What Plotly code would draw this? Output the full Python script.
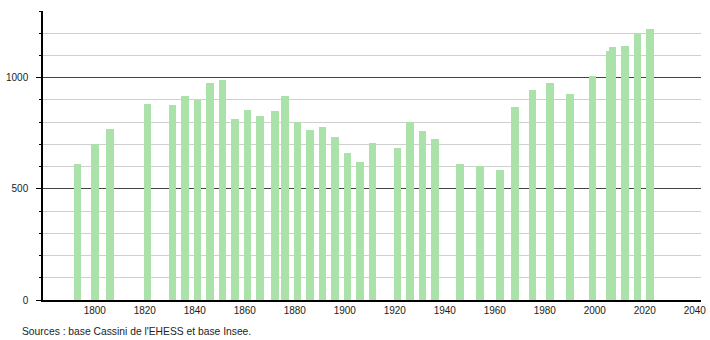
import plotly.graph_objects as go

years = [1793, 1800, 1806, 1821, 1831, 1836, 1841, 1846, 1851, 1856, 1861, 1866,
         1872, 1876, 1881, 1886, 1891, 1896, 1901, 1906, 1911, 1921, 1926, 1931,
         1936, 1946, 1954, 1962, 1968, 1975, 1982, 1990, 1999, 2006, 2007, 2012,
         2017, 2022]
population = [611, 701, 769, 880, 877, 917, 898, 974, 989, 812, 854, 827,
              850, 918, 799, 764, 778, 733, 662, 620, 706, 685, 799, 760,
              722, 614, 602, 584, 866, 944, 974, 926, 1008, 1119, 1136, 1142,
              1199, 1218]
x_ticks = list(range(1800, 2041, 20))
y_ticks = [0, 500, 1000]
source_text = "Sources : base Cassini de l'EHESS et base Insee."

W, H = 710, 340
ml, mr, mt, mb = 43, 9, 11, 40
pw = W - ml - mr
ph = H - mt - mb

fig = go.Figure()
fig.add_trace(go.Bar(
    x=years, y=population, width=3,
    marker=dict(color="#aae2aa", line=dict(width=0)),
    hoverinfo="x+y",
))

font = dict(family="Liberation Sans, Arial, sans-serif", size=10, color="#222")

fig.update_layout(
    template="none",
    width=W, height=H,
    margin=dict(l=ml, r=mr, t=mt, b=mb, pad=0),
    plot_bgcolor="white", paper_bgcolor="white",
    showlegend=False, bargap=0,
    font=font,
    xaxis=dict(
        range=[1779.3, 2042.5], automargin=False,
        tickmode="array", tickvals=x_ticks, ticktext=[str(v) for v in x_ticks],
        showgrid=False, zeroline=False,
        showline=True, linecolor="black", linewidth=1.5,
        ticks="", ticklabelstandoff=0,
        tickfont=font,
    ),
    yaxis=dict(
        range=[0, 1300], automargin=False,
        tickmode="array", tickvals=y_ticks, ticktext=[str(v) for v in y_ticks],
        showgrid=True, gridcolor="#444", gridwidth=1,
        zeroline=False,
        showline=True, linecolor="black", linewidth=1.5,
        ticks="outside", ticklen=5, tickcolor="black", tickwidth=1,
        ticklabelstandoff=6,
        tickfont=font,
        minor=dict(dtick=100, tick0=0, showgrid=True, gridcolor="#cfcfcf", gridwidth=1,
                   ticks="outside", ticklen=2, tickcolor="black"),
    ),
    annotations=[dict(
        text=source_text, xref="paper", yref="paper",
        x=(20 - ml) / pw, y=-(331 - (mt + ph)) / ph,
        xanchor="left", yanchor="middle", showarrow=False,
        font=dict(family="Liberation Sans, Arial, sans-serif", size=10.3, color="#222"),
    )],
)

fig.write_html("out.html")
